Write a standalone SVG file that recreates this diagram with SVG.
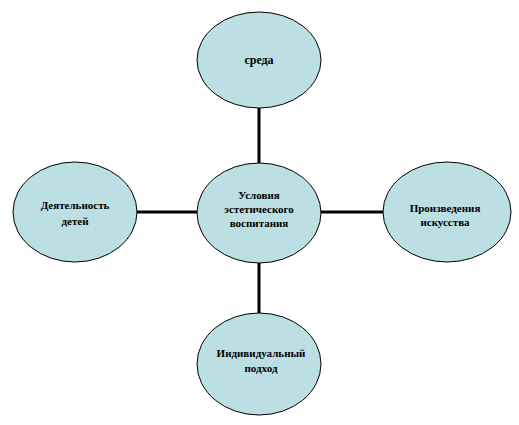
<svg xmlns="http://www.w3.org/2000/svg" width="519" height="425" viewBox="0 0 519 425">
<style>
.node ellipse{fill:#bbdfe2;stroke:#000;stroke-width:1}
.node text{font-family:'Liberation Serif',serif;font-weight:bold;font-size:11px;fill:#000;text-anchor:middle}
.conn line{stroke:#000;stroke-width:3}
</style>
<rect width="519" height="425" fill="#fff"/>
<g id="connectors" class="conn">
<line x1="259" y1="108" x2="259" y2="163"/>
<line x1="136" y1="212" x2="197" y2="212"/>
<line x1="321" y1="212" x2="383" y2="212"/>
<line x1="259" y1="263" x2="259" y2="313"/>
</g>
<g id="node-sreda" class="node">
<ellipse cx="259" cy="60" rx="62" ry="48"/>
<text x="259" y="64" style="font-size:12px">среда</text>
</g>
<g id="node-center" class="node">
<ellipse cx="259" cy="213" rx="62" ry="50"/>
<text x="259" y="199">Условия</text>
<text x="259" y="213">эстетического</text>
<text x="259" y="227">воспитания</text>
</g>
<g id="node-deyatelnost" class="node">
<ellipse cx="75" cy="212" rx="62" ry="50"/>
<text x="75" y="209">Деятельность</text>
<text x="75" y="225">детей</text>
</g>
<g id="node-proizvedeniya" class="node">
<ellipse cx="447" cy="212" rx="64" ry="50"/>
<text x="445" y="212">Произведения</text>
<text x="445" y="226">искусства</text>
</g>
<g id="node-individualny" class="node">
<ellipse cx="259" cy="364" rx="62" ry="51"/>
<text x="261" y="357">Индивидуальный</text>
<text x="261" y="372">подход</text>
</g>
</svg>
